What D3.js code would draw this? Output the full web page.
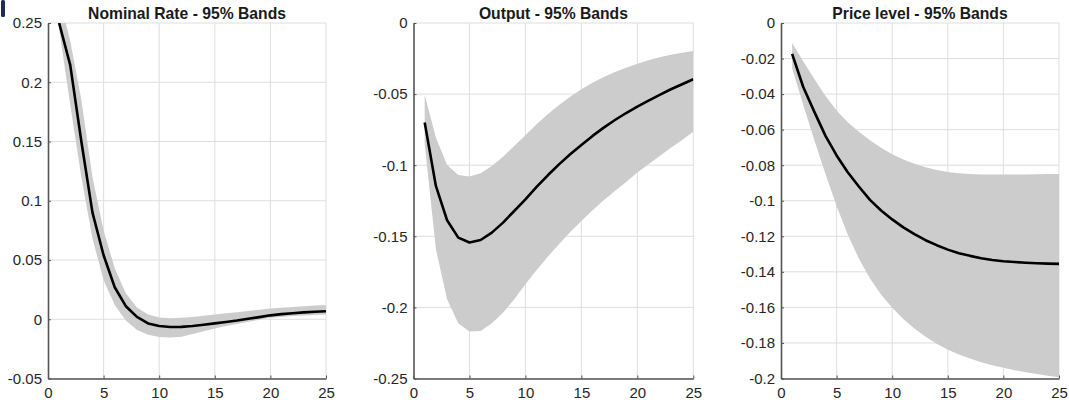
<!DOCTYPE html>
<html>
<head>
<meta charset="utf-8">
<script src="https://cdn.jsdelivr.net/npm/d3@7"></script>
<style>
  html, body { margin: 0; padding: 0; background: #fff; }
  svg { display: block; font-family: "Liberation Sans", Arial, Helvetica, sans-serif; }
</style>
</head>
<body>
<svg id="chart" width="1069" height="400"></svg>
<script>
// ---------- data ----------
const horizons = d3.range(1, 26);

const titles = ["Nominal Rate - 95% Bands", "Output - 95% Bands", "Price level - 95% Bands"];

const nominalMean  = [0.25, 0.2145, 0.15, 0.09, 0.054, 0.027, 0.011, 0.002, -0.0035, -0.0057, -0.0065, -0.0064, -0.0057, -0.0047, -0.0035, -0.0023, -0.0011, 0.0004, 0.0018, 0.0033, 0.0043, 0.0051, 0.0058, 0.0063, 0.0068];
const nominalUpper = [0.272, 0.235, 0.185, 0.12, 0.075, 0.043, 0.022, 0.01, 0.004, 0.0015, 0.0008, 0.0012, 0.002, 0.003, 0.004, 0.005, 0.006, 0.007, 0.008, 0.009, 0.0097, 0.0104, 0.011, 0.0115, 0.012];
const nominalLower = [0.245, 0.181, 0.12, 0.068, 0.033, 0.012, -0.001, -0.009, -0.013, -0.015, -0.0155, -0.0148, -0.0125, -0.0102, -0.0079, -0.0058, -0.004, -0.0022, -0.0005, 0.0012, 0.002, 0.0027, 0.0032, 0.0036, 0.004];

const outputMean  = [-0.070, -0.1146, -0.1387, -0.1509, -0.1544, -0.1526, -0.1474, -0.1404, -0.1322, -0.124, -0.1153, -0.1071, -0.0994, -0.0923, -0.0858, -0.0794, -0.0736, -0.0682, -0.0633, -0.0588, -0.0546, -0.0506, -0.0466, -0.0431, -0.0396];
const outputUpper = [-0.0504, -0.0806, -0.0998, -0.1069, -0.108, -0.1057, -0.1005, -0.094, -0.0865, -0.079, -0.0712, -0.0642, -0.0577, -0.0518, -0.0466, -0.042, -0.038, -0.0344, -0.0314, -0.0286, -0.0262, -0.0241, -0.0223, -0.0209, -0.0197];
const outputLower = [-0.085, -0.159, -0.1943, -0.2112, -0.217, -0.2166, -0.2112, -0.2037, -0.1943, -0.1837, -0.1737, -0.1643, -0.1556, -0.147, -0.1392, -0.1317, -0.1247, -0.1181, -0.1118, -0.1052, -0.0994, -0.0935, -0.0877, -0.0823, -0.0764];

const priceMean  = [-0.0174, -0.036, -0.050, -0.0635, -0.0745, -0.084, -0.092, -0.0995, -0.1055, -0.1105, -0.115, -0.1188, -0.1222, -0.125, -0.1275, -0.1295, -0.131, -0.1323, -0.1333, -0.134, -0.1345, -0.1349, -0.1352, -0.1354, -0.1355];
const priceUpper = [-0.0113, -0.0215, -0.0315, -0.0410, -0.0492, -0.0558, -0.0612, -0.0660, -0.0702, -0.0738, -0.0768, -0.0792, -0.0812, -0.0827, -0.0838, -0.0845, -0.0849, -0.0852, -0.0853, -0.0853, -0.0853, -0.0852, -0.0851, -0.0850, -0.0849];
const priceLower = [-0.0255, -0.046, -0.066, -0.085, -0.103, -0.119, -0.1325, -0.1438, -0.1528, -0.1602, -0.1665, -0.1718, -0.1765, -0.1805, -0.1838, -0.1865, -0.1888, -0.1908, -0.1925, -0.194, -0.1953, -0.1965, -0.1975, -0.1985, -0.1993];

const xTicks = [0, 5, 10, 15, 20, 25];
const xTickLabels = ["0", "5", "10", "15", "20", "25"];

const nominalYTicks = [-0.05, 0, 0.05, 0.1, 0.15, 0.2, 0.25];
const nominalYLabels = ["-0.05", "0", "0.05", "0.1", "0.15", "0.2", "0.25"];
const outputYTicks = [-0.25, -0.2, -0.15, -0.1, -0.05, 0];
const outputYLabels = ["-0.25", "-0.2", "-0.15", "-0.1", "-0.05", "0"];
const priceYTicks = [-0.2, -0.18, -0.16, -0.14, -0.12, -0.1, -0.08, -0.06, -0.04, -0.02, 0];
const priceYLabels = ["-0.2", "-0.18", "-0.16", "-0.14", "-0.12", "-0.1", "-0.08", "-0.06", "-0.04", "-0.02", "0"];

// ---------- layout ----------
const svg = d3.select("#chart");
const plotTop = 23, plotBottom = 378.5;
const panels = [
  { left: 48,    right: 326,    domain: [-0.05, 0.25], ticks: nominalYTicks, labels: nominalYLabels, mean: nominalMean, upper: nominalUpper, lower: nominalLower },
  { left: 413.5, right: 693.3,  domain: [-0.25, 0],    ticks: outputYTicks,  labels: outputYLabels,  mean: outputMean,  upper: outputUpper,  lower: outputLower },
  { left: 781,   right: 1059,   domain: [-0.2, 0],     ticks: priceYTicks,   labels: priceYLabels,   mean: priceMean,   upper: priceUpper,   lower: priceLower }
];

// small artifact at top-left of the reference
svg.append("rect").attr("x", 1).attr("y", 0).attr("width", 4).attr("height", 17)
  .attr("rx", 1.5).attr("fill", "#1f2a5c");

const axisColor = "#555555";
const textColor = "#262626";
const fontFam = "'Liberation Sans', Arial, Helvetica, sans-serif";

panels.forEach((p, i) => {
  const x = d3.scaleLinear().domain([0, 25]).range([p.left, p.right]);
  const y = d3.scaleLinear().domain(p.domain).range([plotBottom, plotTop]);
  const g = svg.append("g");

  const clipId = "clip" + i;
  svg.append("defs").append("clipPath").attr("id", clipId)
    .append("rect").attr("x", p.left).attr("y", plotTop).attr("width", p.right - p.left).attr("height", plotBottom - plotTop);

  // grid
  const grid = g.append("g").attr("stroke", "#dedede").attr("stroke-width", 1);
  grid.selectAll("line.v").data(xTicks.filter(t => t > 0)).join("line").attr("class", "v")
    .attr("x1", d => x(d)).attr("x2", d => x(d)).attr("y1", plotTop).attr("y2", plotBottom);
  grid.selectAll("line.h").data(p.ticks).join("line").attr("class", "h")
    .attr("x1", p.left).attr("x2", p.right).attr("y1", d => y(d)).attr("y2", d => y(d));

  const plot = g.append("g").attr("clip-path", `url(#${clipId})`);

  // band
  const area = d3.area()
    .x((d, j) => x(horizons[j]))
    .y0((d, j) => y(p.lower[j]))
    .y1((d, j) => y(p.upper[j]));
  plot.append("path").datum(horizons).attr("d", area).attr("fill", "#cccccc");

  // mean line
  const line = d3.line().x((d, j) => x(horizons[j])).y((d, j) => y(p.mean[j]));
  plot.append("path").datum(horizons).attr("d", line)
    .attr("fill", "none").attr("stroke", "#000").attr("stroke-width", 2.6).attr("stroke-linejoin", "round");

  // axes
  const xAxis = d3.axisBottom(x).tickValues(xTicks).tickFormat((d, j) => xTickLabels[j]).tickSizeInner(-3).tickSizeOuter(0).tickPadding(9);
  const yAxis = d3.axisLeft(y).tickValues(p.ticks).tickFormat((d, j) => p.labels[j]).tickSizeInner(-3).tickSizeOuter(0).tickPadding(6);

  const gx = g.append("g").attr("transform", `translate(0,${plotBottom})`).call(xAxis);
  const gy = g.append("g").attr("transform", `translate(${p.left},0)`).call(yAxis);
  [gx, gy].forEach(a => {
    a.select(".domain").attr("stroke", axisColor).attr("stroke-width", 1.6);
    a.selectAll(".tick line").attr("stroke", axisColor).attr("stroke-width", 1);
    a.selectAll("text").attr("fill", textColor).attr("font-size", 15).attr("font-family", fontFam);
  });

  // title
  svg.append("text").attr("x", (p.left + p.right) / 2).attr("y", 18.5)
    .attr("text-anchor", "middle").attr("font-size", 15.7).attr("font-weight", "bold")
    .attr("font-family", fontFam).attr("fill", "#1a1a1a").text(titles[i]);
});
</script>
</body>
</html>
